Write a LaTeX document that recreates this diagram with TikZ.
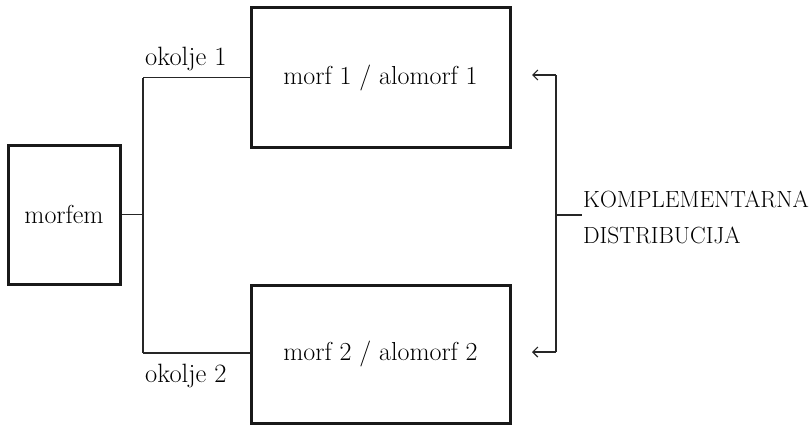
\documentclass[tikz,border=0pt]{standalone}
\usetikzlibrary{arrows.meta}
\begin{document}
\begin{tikzpicture}[x=1pt,y=-1pt,
  box/.style={draw=black!90, line width=3pt, inner sep=0pt, font=\fontsize{26}{31}\selectfont},
  conn/.style={draw=black!85, line width=1.3pt},
  lbl/.style={anchor=base west, inner sep=0pt, font=\fontsize{26.5}{31}\selectfont},
  caps/.style={anchor=base west, inner sep=0pt, font=\fontsize{23.4}{28}\selectfont}]
\useasboundingbox (0,0) rectangle (812,426);
\node[box, minimum width=112pt, minimum height=139pt] (m) at (64,214.5) {morfem};
\node[box, minimum width=259pt, minimum height=140pt] (b1) at (380.5,77.5) {morf 1 / alomorf 1};
\node[box, minimum width=259pt, minimum height=138pt] (b2) at (380.5,354) {morf 2 / alomorf 2};
\coordinate (j) at (143,214.5);
\coordinate (u) at (143,77.5);
\coordinate (d) at (143,353);
\draw[conn] (m.east) -- (j);
\draw[conn] (u) -- (d);
\draw[conn] (u) -- (b1.west |- u);
\draw[conn] (d) -- (b2.west |- d);
\node[lbl] (o1) at (145,65) {okolje 1};
\node[lbl] (o2) at (145,382) {okolje 2};
\coordinate (r1) at (556,75);
\coordinate (r2) at (556,352);
\coordinate (a1) at (532,75);
\coordinate (a2) at (532,352);
\coordinate (rm) at (556,215);
\coordinate (rt) at (582,215);
\draw[conn, line width=1.8pt] (r1) -- (r2);
\draw[conn, -{Straight Barb[length=5pt,width=10pt,line width=1.2pt]}] (r1) -- (a1);
\draw[conn, -{Straight Barb[length=5pt,width=10pt,line width=1.2pt]}] (r2) -- (a2);
\draw[conn, line width=2.2pt] (rm) -- (rt);
\node[caps] (k) at (583,207) {KOMPLEMENTARNA};
\node[caps] (dd) at (583,243) {DISTRIBUCIJA};
\end{tikzpicture}
\end{document}
